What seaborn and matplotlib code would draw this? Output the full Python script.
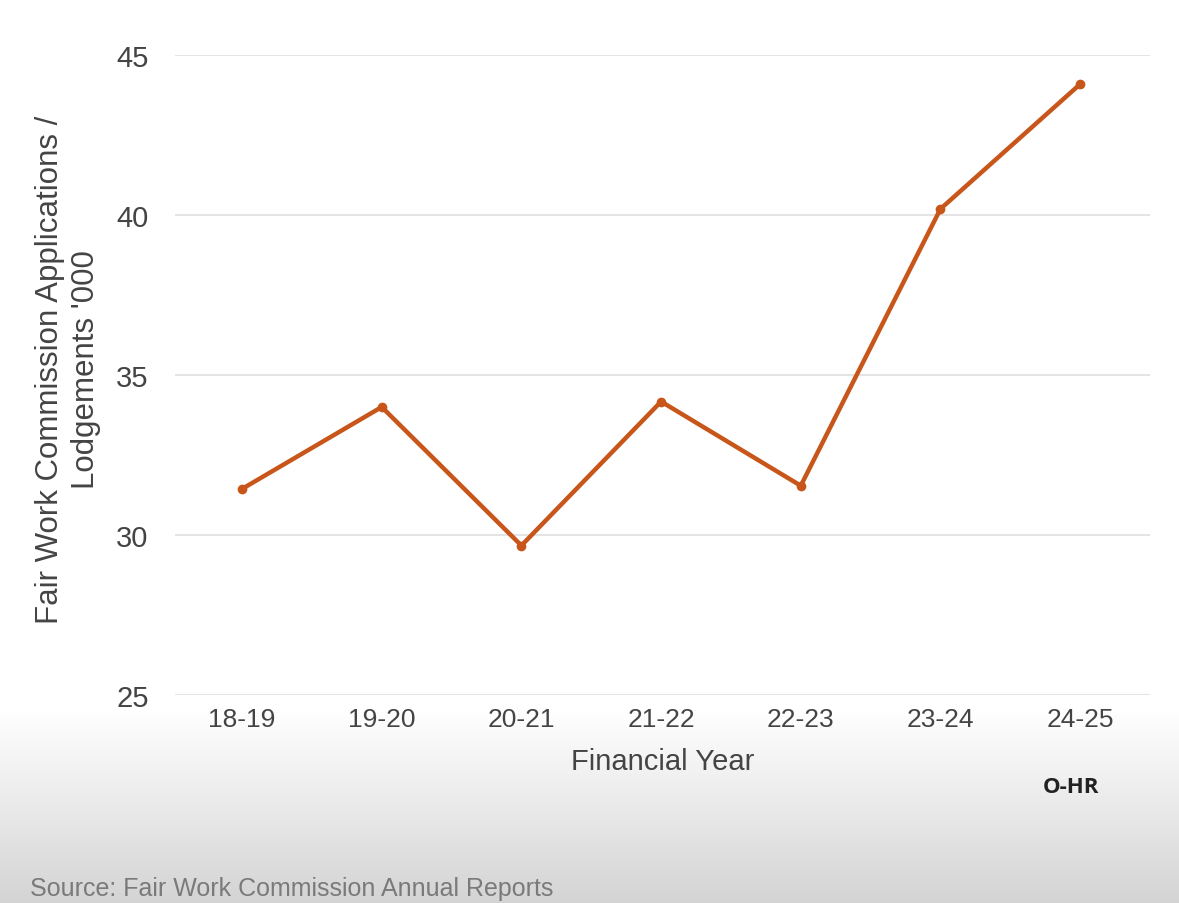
import numpy as np
import pandas as pd
import matplotlib.pyplot as plt
import seaborn as sns

# data ('000 lodgements)
years = ['18-19', '19-20', '20-21', '21-22', '22-23', '23-24', '24-25']
lodgements = [31.44, 34.0, 29.67, 34.17, 31.54, 40.19, 44.09]
y_ticks = [25, 30, 35, 40, 45]

df = pd.DataFrame({'year': years, 'lodgements': lodgements})

sns.set_style('white')
plt.rcParams['font.family'] = ['Liberation Sans', 'DejaVu Sans']

fig = plt.figure(figsize=(11.79, 9.04), dpi=100)
fig.patch.set_facecolor('white')

# grey fade at the bottom of the image
bg = fig.add_axes([0, 0, 1, 1], zorder=-10)
h = 904
grad = np.ones((h, 1))
start = 712
for i in range(start, h):
    t = (i - start) / (h - start)
    grad[i, 0] = 1 - 0.17 * t
bg.imshow(np.dstack([grad, grad, grad]), aspect='auto', extent=[0, 1, 0, 1], origin='upper')
bg.axis('off')

ax = fig.add_axes([175 / 1179, 1 - 696 / 904, 975 / 1179, 640 / 904])
ax.set_facecolor('none')

sns.lineplot(data=df, x='year', y='lodgements', ax=ax, color='#c8561a',
             linewidth=3.2, marker='o', markersize=7, markeredgewidth=0)

ax.set_ylim(25, 45)
ax.set_xlim(-0.48, 6.5)
ax.set_yticks(y_ticks)
ax.yaxis.grid(True, color='#e2e2e2', linewidth=1.3)
ax.set_axisbelow(True)
for s in ax.spines.values():
    s.set_visible(False)
ax.tick_params(axis='y', length=0, pad=19, labelsize=21, labelcolor='#444444')
ax.tick_params(axis='x', length=0, pad=9, labelsize=19, labelcolor='#444444')

ax.set_xlabel('Financial Year', fontsize=21, color='#444444', labelpad=11)
ax.set_ylabel('')
fig.text(68 / 1179, 1 - 370 / 904, "Fair Work Commission Applications /\nLodgements '000",
         rotation=90, ha='center', va='center', multialignment='center',
         fontsize=22.5, color='#444444', linespacing=1.25)

fig.text(1071 / 1179, 1 - 788 / 904, 'O-HR', ha='center', va='center',
         fontsize=16, fontweight='bold', color='#222222', family=['Open Sans', 'DejaVu Sans'])

fig.text(30 / 1179, 1 - 889 / 904, 'Source: Fair Work Commission Annual Reports',
         ha='left', va='center', fontsize=18, color='#7a7a7a')

fig.savefig('out.png', dpi=100)
